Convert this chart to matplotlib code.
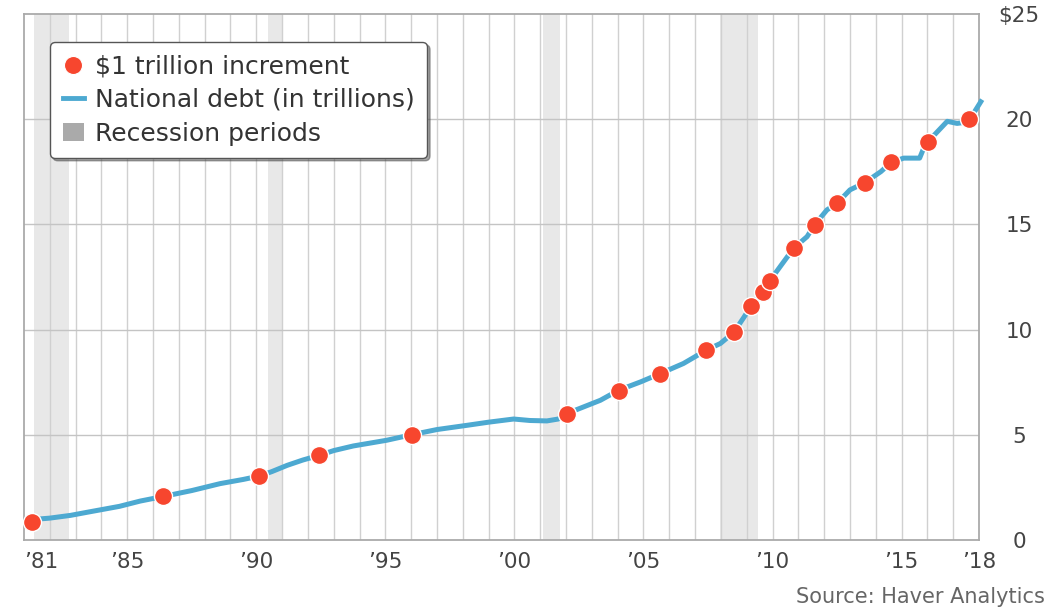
import matplotlib
matplotlib.use("Agg")
import matplotlib.pyplot as plt
from matplotlib.lines import Line2D
from matplotlib.patches import Patch

plt.rcParams['font.family'] = ['DejaVu Sans']

# ---- data ----
debt_years = [1981.0, 1981.5, 1982.0, 1982.8, 1983.5, 1984.7, 1985.5, 1986.4, 1987.5,
              1988.6, 1989.5, 1990.12, 1990.6, 1991.2, 1991.8, 1992.43, 1993.0, 1993.76,
              1995.05, 1996.05, 1997.0, 1998.16, 1999.0, 1999.97, 2000.6, 2001.26,
              2001.7, 2002.03, 2003.33, 2004.04, 2004.9, 2005.65, 2006.55, 2007.43,
              2007.98, 2008.5, 2008.9, 2009.17, 2009.62, 2009.89, 2010.3, 2010.82,
              2011.34, 2011.63, 2012.11, 2012.5, 2013.0, 2013.57, 2014.2, 2014.6,
              2015.08, 2015.7, 2015.85, 2016.03, 2016.77, 2017.15, 2017.45, 2017.6,
              2017.8, 2018.12]
debt_values = [0.96, 0.99, 1.04, 1.17, 1.33, 1.60, 1.85, 2.07, 2.35,
               2.68, 2.88, 3.04, 3.25, 3.55, 3.80, 4.02, 4.25, 4.47,
               4.74, 5.01, 5.25, 5.45, 5.60, 5.75, 5.68, 5.66,
               5.75, 6.01, 6.64, 7.12, 7.52, 7.91, 8.39, 9.02,
               9.34, 9.87, 10.6, 11.13, 11.80, 12.31, 13.0, 13.87,
               14.42, 14.98, 15.69, 16.0, 16.64, 16.98, 17.51, 17.95,
               18.15, 18.15, 18.6, 18.94, 19.9, 19.8, 19.85, 20.01,
               20.3, 20.93]

increment_years = [1981.3, 1986.4, 1990.12, 1992.43, 1996.05, 2002.03, 2004.04, 2005.65,
                   2007.43, 2008.5, 2009.17, 2009.62, 2009.89, 2010.82, 2011.63, 2012.5,
                   2013.57, 2014.6, 2016.03, 2017.6]
increment_values = [0.87, 2.07, 3.04, 4.02, 5.01, 6.01, 7.10, 7.91,
                    9.04, 9.88, 11.13, 11.80, 12.31, 13.87, 14.98, 16.0,
                    16.98, 17.95, 18.94, 20.01]

recession_starts = [1981.4, 1990.45, 2001.1, 2007.95]
recession_ends = [1982.75, 1991.05, 2001.75, 2009.45]

x_tick_years = [1981, 1985, 1990, 1995, 2000, 2005, 2010, 2015, 2018]
x_tick_labels = ["\u201981", "\u201985", "\u201990", "\u201995", "\u201900",
                 "\u201905", "\u201910", "\u201915", "\u201918"]
y_ticks = [0, 5, 10, 15, 20, 25]
y_tick_labels = ["0", "5", "10", "15", "20", "$25"]

# ---- figure ----
fig = plt.figure(figsize=(10.48, 6.13), dpi=100)
ax = fig.add_axes([24 / 1048, 1 - 540 / 613, 955 / 1048, 526 / 613])

line_color = "#4DA9D1"
dot_color = "#F7462E"
text_color = "#444444"

for s, e in zip(recession_starts, recession_ends):
    ax.axvspan(s, e, color="#E8E8E8", zorder=0, lw=0)

for yr in range(1982, 2018):
    ax.axvline(yr, color="#D0D0D0", lw=1.0, zorder=1)
for yv in [5, 10, 15, 20]:
    ax.axhline(yv, color="#C4C4C4", lw=1.0, zorder=1)

ax.plot(debt_years, debt_values, color=line_color, lw=3.6, zorder=3,
        solid_capstyle="butt", clip_on=False)
ax.plot(increment_years, increment_values, "o", color=dot_color, ms=13,
        mec="white", mew=1.0, zorder=4, clip_on=False)

ax.set_xlim(1981, 2018)
ax.set_ylim(0, 25)

for sp in ax.spines.values():
    sp.set_color("#AAAAAA")
    sp.set_linewidth(1.3)

ax.set_xticks(x_tick_years)
ax.set_xticklabels(x_tick_labels, fontsize=15.5, color=text_color)
ax.tick_params(axis="x", length=0, pad=9)
xl = ax.get_xticklabels()
xl[0].set_ha("left")

ax.yaxis.tick_right()
ax.set_yticks(y_ticks)
ax.set_yticklabels(y_tick_labels, fontsize=15.5, color=text_color)
ax.tick_params(axis="y", length=0, pad=29)
for t in ax.get_yticklabels():
    t.set_ha("center")

handles = [
    Line2D([], [], marker="o", ls="none", color=dot_color, ms=13, mec="white", mew=0.8),
    Line2D([], [], color=line_color, lw=3.5),
    Patch(facecolor="#AAAAAA", edgecolor="none"),
]
labels = ["$1 trillion increment", "National debt (in trillions)", "Recession periods"]
leg = fig.legend(handles, labels, loc="upper left",
                 bbox_to_anchor=(50 / 1048, 1 - 42 / 613), bbox_transform=fig.transFigure,
                 fontsize=18, frameon=True, fancybox=True, shadow=True,
                 handlelength=0.85, handleheight=0.75, handletextpad=0.45,
                 labelspacing=0.38, borderpad=0.5, borderaxespad=0)
leg.get_frame().set_edgecolor("#555555")
leg.get_frame().set_linewidth(1.0)
for t in leg.get_texts():
    t.set_color("#333333")

fig.text(1045 / 1048, 1 - 597 / 613, "Source: Haver Analytics", ha="right", va="center",
         fontsize=15, color="#666666")

fig.savefig("out.png", dpi=100)
